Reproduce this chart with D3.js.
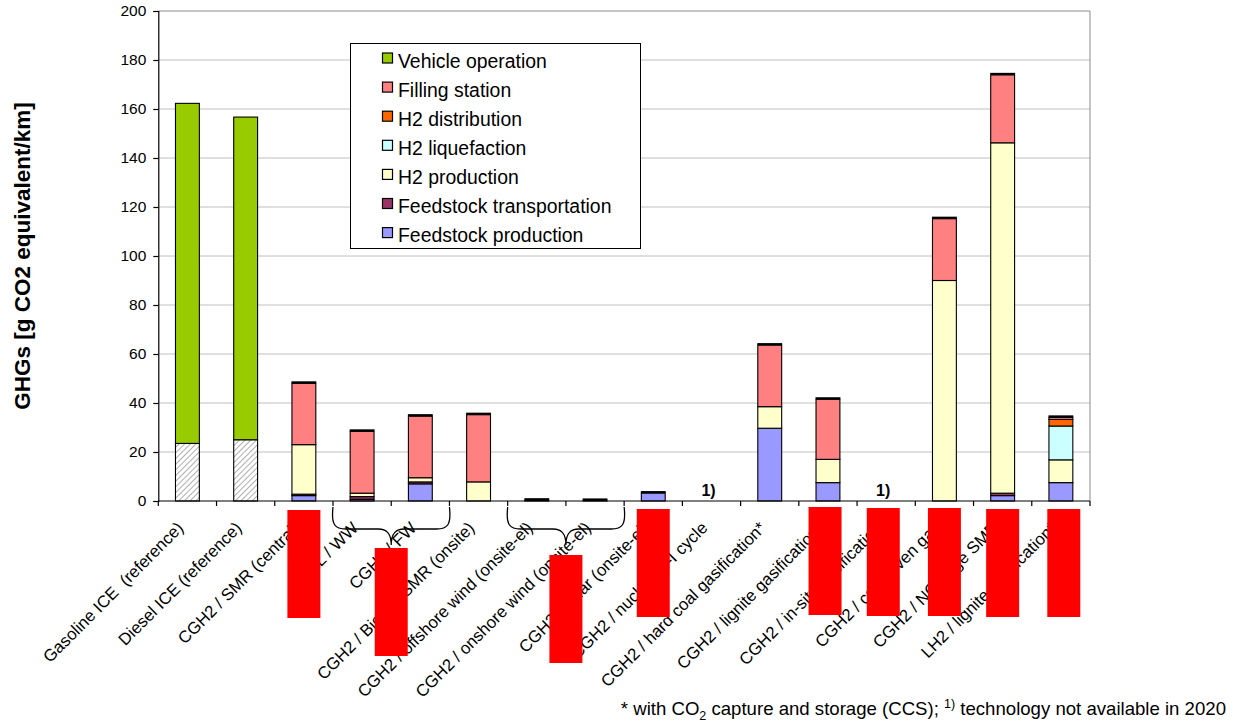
<!DOCTYPE html>
<html>
<head>
<meta charset="utf-8">
<script src="https://cdn.jsdelivr.net/npm/d3@7"></script>
<style>
  html, body { margin: 0; padding: 0; background: #fff; }
  svg { display: block; font-family: "Liberation Sans", Arial, sans-serif; }
  .cat-label { white-space: pre; }
</style>
</head>
<body>
<svg id="chart" width="1244" height="726"></svg>
<script>
// Pathway labels along the x axis
const categories = [
  "Gasoline ICE  (reference)",
  "Diesel ICE (reference)",
  "CGH2 / SMR (central)",
  "EL / WW",
  "CGH2 / FW",
  "CGH2 / Biogas SMR (onsite)",
  "CGH2 / offshore wind (onsite-el)",
  "CGH2 / onshore wind (onsite-el)",
  "CGH2 / solar (onsite-el)",
  "CGH2 / nuclear S-I cycle",
  "CGH2 / hard coal gasification*",
  "CGH2 / lignite gasification*",
  "CGH2 / in-situ gasification",
  "CGH2 / coke oven gas",
  "CGH2 / NG large SMR",
  "LH2 / lignite gasification*"
];

// GHG contributions, g CO2 equivalent per km (null = not available in 2020)
const fuelSupply            = [23.5, 25.0, 0, 0, 0, 0, 0, 0, 0, null, 0, 0, null, 0, 0, 0];
const feedstockProduction   = [0, 0, 2.2, 0.7, 7.0, 0, 0.3, 0.2, 3.2, null, 29.7, 7.5, null, 0, 2.2, 7.5];
const feedstockTransport    = [0, 0, 0.6, 1.1, 0.8, 0, 0, 0, 0, null, 0, 0, null, 0, 1.0, 0];
const h2Production          = [0, 0, 20.2, 1.4, 1.7, 7.8, 0, 0, 0, null, 8.8, 9.5, null, 90.0, 143.0, 9.3];
const h2Liquefaction        = [0, 0, 0, 0, 0, 0, 0, 0, 0, null, 0, 0, null, 0, 0, 13.8];
const h2Distribution        = [0, 0, 0, 0, 0, 0, 0, 0, 0, null, 0, 0, null, 0, 0, 2.7];
const fillingStation        = [0, 0, 25.0, 25.2, 25.1, 27.4, 0, 0, 0, null, 25.1, 24.5, null, 25.2, 27.7, 0.8];
const vehicleOperation      = [138.8, 131.7, 0, 0, 0, 0, 0, 0, 0, null, 0, 0, null, 0, 0, 0];

// Stacking order, bottom to top
const seriesNames = [
  "Fuel supply", "Feedstock production", "Feedstock transportation", "H2 production",
  "H2 liquefaction", "H2 distribution", "Filling station", "Vehicle operation"
];
const seriesValues = [
  fuelSupply, feedstockProduction, feedstockTransport, h2Production,
  h2Liquefaction, h2Distribution, fillingStation, vehicleOperation
];
const seriesColors = [
  "url(#hatch)", "#9999FF", "#993366", "#FFFFCC",
  "#CCFFFF", "#FF6600", "#FF8080", "#99CC00"
];
// Legend lists the series top to bottom (fuel supply is not listed)
const legendNames = [
  "Vehicle operation", "Filling station", "H2 distribution", "H2 liquefaction",
  "H2 production", "Feedstock transportation", "Feedstock production"
];

const yTicks = [0, 20, 40, 60, 80, 100, 120, 140, 160, 180, 200];
const notAvailableMark = "1)";

// Braces group neighbouring pathways: [first index, last index]
const braces = [[3, 4], [6, 7]];
// Masked label areas: position in category units from the left edge, top offset below the axis
const masks = [
  { at: 2.5, dy: 9 }, { at: 4.0, dy: 47 }, { at: 7.0, dy: 54 },
  { at: 8.5, dy: 8 }, { at: 11.45, dy: 6 }, { at: 12.45, dy: 7 },
  { at: 13.5, dy: 7 }, { at: 14.5, dy: 8 }, { at: 15.55, dy: 8 }
];

const svg = d3.select("#chart");
const margin = { left: 158.3, right: 1244 - 1090, top: 11, bottom: 726 - 501 };
const W = 1244, H = 726;
const x0 = margin.left, x1 = W - margin.right, yTop = margin.top, yBase = H - margin.bottom;

const x = d3.scaleBand().domain(categories).range([x0, x1]).paddingInner(0).paddingOuter(0);
const barW = x.bandwidth() * 0.41;
const y = d3.scaleLinear().domain([0, 200]).range([yBase, yTop]);

// Hatch pattern for conventional fuel supply
const defs = svg.append("defs");
const pat = defs.append("pattern")
  .attr("id", "hatch").attr("patternUnits", "userSpaceOnUse")
  .attr("width", 4).attr("height", 4)
  .attr("patternTransform", "rotate(45)");
pat.append("rect").attr("width", 4).attr("height", 4).attr("fill", "#fff");
pat.append("line").attr("x1", 0).attr("y1", 0).attr("x2", 0).attr("y2", 4)
  .attr("stroke", "#999").attr("stroke-width", 1.6);

// Gridlines
svg.append("g").selectAll("line").data(yTicks.filter(d => d > 0)).join("line")
  .attr("x1", x0).attr("x2", x1)
  .attr("y1", d => y(d)).attr("y2", d => y(d))
  .attr("stroke", d => d === 200 ? "#8c8c8c" : "#c0c0c0").attr("stroke-width", 1);
// Plot area right border
svg.append("line").attr("x1", x1).attr("x2", x1).attr("y1", yTop).attr("y2", yBase)
  .attr("stroke", "#8c8c8c");

// Stacked bars
const stackData = categories.map((c, i) => {
  const row = { cat: c };
  seriesNames.forEach((s, k) => row[s] = seriesValues[k][i] || 0);
  row.available = seriesValues.some(v => v[i] !== null);
  return row;
});
const stack = d3.stack().keys(seriesNames)(stackData);

const barsG = svg.append("g");
stack.forEach((layer, k) => {
  barsG.append("g").selectAll("rect")
    .data(layer.filter(d => d[1] - d[0] > 0))
    .join("rect")
    .attr("x", d => x(d.data.cat) + (x.bandwidth() - barW) / 2)
    .attr("width", barW)
    .attr("y", d => y(d[1]))
    .attr("height", d => y(d[0]) - y(d[1]))
    .attr("fill", seriesColors[k])
    .attr("stroke", "#000").attr("stroke-width", 1.1);
});

// Zero-height vehicle-operation segment on hydrogen pathways leaves a heavier cap line
barsG.append("g").selectAll("line")
  .data(stackData.filter(d => d.available && d["Vehicle operation"] === 0))
  .join("line")
  .attr("x1", d => x(d.cat) + (x.bandwidth() - barW) / 2 - 0.5)
  .attr("x2", d => x(d.cat) + (x.bandwidth() + barW) / 2 + 0.5)
  .attr("y1", d => y(d3.sum(seriesNames, s => d[s])) - 1)
  .attr("y2", d => y(d3.sum(seriesNames, s => d[s])) - 1)
  .attr("stroke", "#000").attr("stroke-width", 2.2);

// "1)" markers where the technology is unavailable
svg.append("g").selectAll("text")
  .data(stackData.filter(d => !d.available)).join("text")
  .attr("x", d => x(d.cat) + x.bandwidth() / 2 - 3)
  .attr("y", yBase - 5)
  .attr("text-anchor", "middle")
  .attr("font-size", 16).attr("font-weight", "bold")
  .text(notAvailableMark);

// Y axis
const yAxis = svg.append("g").attr("transform", `translate(${x0},0)`)
  .call(d3.axisLeft(y).tickValues(yTicks).tickSize(5).tickPadding(7));
yAxis.select(".domain").attr("stroke", "#000").attr("stroke-width", 1.2);
yAxis.selectAll(".tick line").attr("stroke", "#000").attr("stroke-width", 1.2);
yAxis.selectAll(".tick text").attr("font-size", 15.5).attr("fill", "#000")
  .attr("font-family", "Liberation Sans, Arial, sans-serif");

// X axis with ticks on category boundaries
const xBounds = categories.map(c => x(c)).concat([x1]);
const xAxisG = svg.append("g");
xAxisG.append("line").attr("x1", x0).attr("x2", x1).attr("y1", yBase).attr("y2", yBase)
  .attr("stroke", "#000").attr("stroke-width", 1.2);
xAxisG.selectAll("line.tk").data(xBounds).join("line").attr("class", "tk")
  .attr("x1", d => d).attr("x2", d => d).attr("y1", yBase).attr("y2", yBase + 5)
  .attr("stroke", "#000").attr("stroke-width", 1.2);

// Rotated category labels
svg.append("g").selectAll("text").data(categories).join("text")
  .attr("class", "cat-label")
  .attr("xml:space", "preserve")
  .attr("transform", d => `translate(${x(d) + x.bandwidth() / 2 - 3},${yBase + 28}) rotate(-45)`)
  .attr("text-anchor", "end")
  .attr("font-size", 16.8)
  .attr("fill", "#000")
  .text(d => d);

// Curly braces grouping pathways
const braceG = svg.append("g").attr("fill", "none").attr("stroke", "#000").attr("stroke-width", 1.3);
braces.forEach(([a, b]) => {
  const L = x(categories[a]), R = x(categories[b]) + x.bandwidth();
  const M = (L + R) / 2;
  const top = yBase + 6, mid = yBase + 28, tip = yBase + 44, r = 13;
  const p = d3.path();
  p.moveTo(L, top);
  p.bezierCurveTo(L - 2, mid - 4, L + 2, mid, L + r, mid);
  p.lineTo(M - r, mid);
  p.bezierCurveTo(M - 3, mid, M, mid + 6, M, tip);
  p.moveTo(R, top);
  p.bezierCurveTo(R + 2, mid - 4, R - 2, mid, R - r, mid);
  p.lineTo(M + r, mid);
  p.bezierCurveTo(M + 3, mid, M, mid + 6, M, tip);
  braceG.append("path").attr("d", p.toString());
});

// Masked label areas
svg.append("g").selectAll("rect").data(masks).join("rect")
  .attr("x", d => x0 + d.at * x.bandwidth() - 16.5)
  .attr("y", d => yBase + d.dy)
  .attr("width", 33).attr("height", 108)
  .attr("fill", "#FF0000");

// Y axis title
svg.append("text")
  .attr("transform", `translate(30,${(yTop + yBase) / 2}) rotate(-90)`)
  .attr("text-anchor", "middle")
  .attr("font-size", 22.5).attr("font-weight", "bold")
  .text("GHGs [g CO2 equivalent/km]");

// Legend
const legend = svg.append("g");
legend.append("rect").attr("x", 350.5).attr("y", 43.5).attr("width", 290).attr("height", 205)
  .attr("fill", "#fff").attr("stroke", "#000").attr("stroke-width", 1);
legendNames.forEach((name, i) => {
  const k = seriesNames.indexOf(name);
  legend.append("rect").attr("x", 382.5).attr("y", 53 + i * 29.1).attr("width", 10).attr("height", 10)
    .attr("fill", seriesColors[k]).attr("stroke", "#000").attr("stroke-width", 1.2);
  legend.append("text").attr("x", 398).attr("y", 67.5 + i * 29.1)
    .attr("font-size", 19.4).attr("fill", "#000").text(name);
});

// Footnote
const note = svg.append("text").attr("x", 1226).attr("y", 715)
  .attr("text-anchor", "end").attr("font-size", 18.6).attr("fill", "#000");
note.append("tspan").text("* with CO");
note.append("tspan").attr("font-size", 12.5).attr("dy", 5).text("2");
note.append("tspan").attr("dy", -5).text(" capture and storage (CCS); ");
note.append("tspan").attr("font-size", 12.5).attr("dy", -7).text("1)");
note.append("tspan").attr("dy", 7).text(" technology not available in 2020");
</script>
</body>
</html>
